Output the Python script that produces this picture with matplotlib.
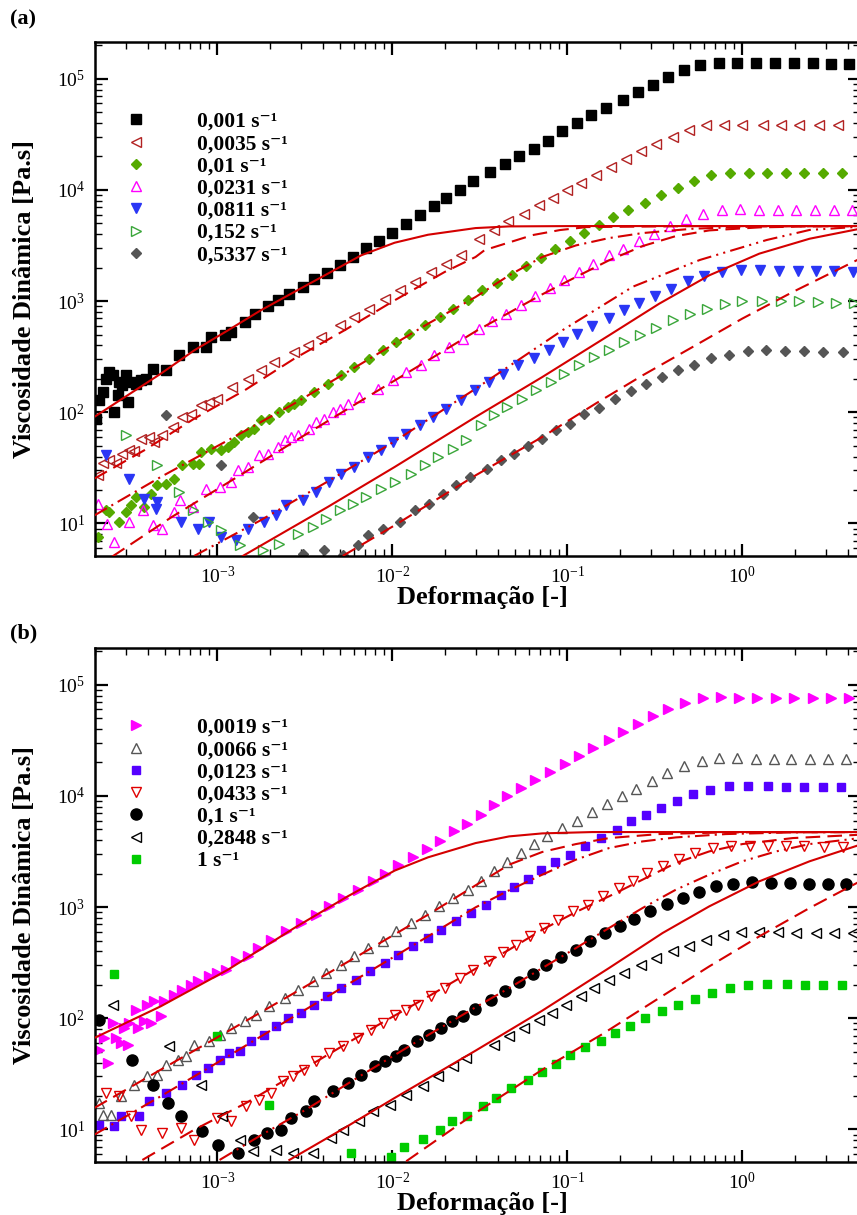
import matplotlib
matplotlib.use("Agg")
import matplotlib.pyplot as plt
from matplotlib.font_manager import FontProperties
from matplotlib.ticker import LogLocator, NullFormatter, LogFormatterMathtext

plt.rcParams["font.family"] = ["Liberation Serif", "DejaVu Serif"]
plt.rcParams["mathtext.fontset"] = "stix"

# ---------------- panel (a) : measured data ----------------
rates_a = ["0,001", "0,0035", "0,01", "0,0231", "0,0811", "0,152", "0,5337"]

strain_a1 = [2.02e-4, 2.11e-4, 2.21e-4, 2.31e-4, 2.41e-4, 2.52e-4, 2.57e-4, 2.69e-4, 2.75e-4, 2.87e-4,
             3.00e-4, 3.07e-4, 3.21e-4, 3.42e-4, 3.66e-4, 3.91e-4,
             4.27e-4, 5.08e-4, 6.05e-4, 7.23e-4, 8.61e-4, 9.18e-4, 1.10e-3, 1.20e-3, 1.43e-3, 1.65e-3,
             1.94e-3, 2.21e-3, 2.58e-3, 3.08e-3, 3.56e-3, 4.22e-3, 4.99e-3, 5.94e-3, 7.08e-3, 8.43e-3,
             9.98e-3, 1.20e-2, 1.43e-2, 1.72e-2, 2.03e-2, 2.44e-2, 2.88e-2,
             3.60e-2, 4.39e-2, 5.30e-2, 6.46e-2, 7.80e-2, 9.38e-2, 0.113, 0.137, 0.167, 0.207,
             0.252, 0.307, 0.378, 0.463, 0.571, 0.738, 0.931, 1.20, 1.54, 1.98, 2.52, 3.21, 4.09]
visc_a1 = [87.7, 128, 152, 200, 230, 215, 101, 142, 187, 175,
           215, 124, 187, 181, 194, 200,
           247, 238, 325, 386, 386, 475, 492, 527, 649, 771,
           897, 1016, 1151, 1340, 1592, 1803, 2099, 2495, 3000, 3467,
           4093, 4932, 5943, 7112, 8511, 10050, 12100,
           14490, 17220, 20320, 23500, 27730, 33650, 39720, 46880, 54450, 64710,
           75860, 88310, 104200, 119700, 133700, 138400, 138400, 138400, 138400, 138400, 138400, 136500, 136500]

strain_a2 = [2.07e-4, 2.21e-4, 2.41e-4, 2.63e-4, 2.87e-4, 3.13e-4, 3.35e-4, 3.66e-4, 4.08e-4, 4.36e-4,
             4.86e-4, 5.55e-4, 6.32e-4, 7.06e-4, 8.05e-4, 8.99e-4, 1.00e-3, 1.22e-3, 1.49e-3, 1.77e-3,
             2.12e-3, 2.75e-3, 3.28e-3, 3.92e-3, 4.99e-3, 6.07e-3, 7.40e-3, 9.02e-3, 1.10e-2, 1.34e-2,
             1.67e-2, 2.03e-2, 2.48e-2,
             3.13e-2, 3.81e-2, 4.60e-2, 5.66e-2, 6.89e-2, 8.28e-2, 0.100, 0.119, 0.145, 0.177,
             0.216, 0.263, 0.321, 0.399, 0.497, 0.619, 0.789, 1.00, 1.31, 1.66, 2.12, 2.75, 3.51]
visc_a2 = [27.1, 35.2, 37.0, 35.2, 42.5, 45.5, 44.6, 57.9, 60.0, 54.1,
           62.1, 73.8, 90.8, 97.3, 115.6, 123.9, 132.7, 169.0, 200.4, 238.2,
           283.1, 348.3, 400, 475.3, 605.3, 719.4, 855.1, 1052, 1250, 1486,
           1828, 2173, 2582,
           3639, 4325, 5212, 6109, 7261, 8453, 9908, 11610, 13710, 16070,
           19100, 22230, 26060, 29920, 34360, 38110, 38640, 38640, 38640, 38640, 38640, 38640, 38640]

strain_a3 = [2.07e-4, 2.31e-4, 2.41e-4, 2.75e-4, 3.00e-4, 3.21e-4, 3.42e-4, 3.82e-4, 4.17e-4, 4.55e-4,
             5.08e-4, 5.68e-4, 6.32e-4, 7.23e-4, 7.89e-4, 8.05e-4, 9.18e-4, 1.05e-3, 1.15e-3, 1.25e-3,
             1.36e-3, 1.49e-3, 1.63e-3, 1.77e-3, 1.98e-3, 2.26e-3, 2.52e-3, 2.75e-3, 3.01e-3, 3.58e-3,
             4.28e-3, 5.09e-3, 6.07e-3, 7.40e-3, 8.81e-3, 1.05e-2, 1.25e-2, 1.53e-2, 1.86e-2, 2.22e-2,
             2.70e-2,
             3.27e-2, 3.98e-2, 4.81e-2, 5.83e-2, 7.05e-2, 8.51e-2, 0.103, 0.125, 0.151, 0.183,
             0.223, 0.279, 0.342, 0.427, 0.531, 0.661, 0.853, 1.09, 1.38, 1.77, 2.26, 2.90, 3.70]
visc_a3 = [7.57, 13.1, 12.7, 10.3, 12.7, 14.6, 17.3, 14.1, 18.5, 22.0,
           22.8, 25.3, 33.3, 34.5, 34.5, 44.0, 47.1, 45.5, 48.8, 54.1,
           62.1, 66.5, 71.3, 84.7, 87.7, 100.7, 111.7, 119.7, 128.2, 152.4,
           181.1, 214.8, 255.3, 303.4, 360.6, 428.5, 509.3, 613.8, 719.4, 855.1,
           1016,
           1250, 1466, 1714, 2070, 2443, 2917, 3443, 4121, 4864, 5702,
           6546, 7674, 8933, 10470, 12110, 13520, 14190, 14190, 14190, 14190, 14190, 14190, 14190]

strain_a4 = [2.07e-4, 2.35e-4, 2.57e-4, 3.13e-4, 3.74e-4, 4.27e-4, 4.86e-4, 5.68e-4, 6.14e-4, 7.23e-4,
             8.61e-4, 1.03e-3, 1.20e-3, 1.31e-3, 1.49e-3, 1.74e-3, 1.94e-3, 2.21e-3, 2.42e-3, 2.64e-3,
             2.88e-3, 3.36e-3, 3.66e-3, 4.09e-3, 4.56e-3, 4.99e-3, 5.56e-3, 6.49e-3, 8.26e-3, 1.01e-2,
             1.20e-2, 1.46e-2, 1.74e-2, 2.12e-2, 2.53e-2,
             3.13e-2, 3.72e-2, 4.48e-2, 5.41e-2, 6.53e-2, 7.93e-2, 9.57e-2, 0.116, 0.140, 0.172,
             0.209, 0.255, 0.313, 0.385, 0.475, 0.598, 0.764, 0.973, 1.24, 1.59, 2.03, 2.61, 3.33, 4.24]
visc_a4 = [15.1, 9.95, 6.82, 10.3, 13.1, 9.62, 8.97, 12.7, 16.1, 14.1,
           20.6, 21.3, 23.6, 30.1, 32.2, 41.0, 42.5, 48.8, 56.0, 60.0,
           62.1, 71.3, 81.8, 87.7, 100.7, 107.9, 119.7, 137.4, 163.3, 193.6,
           230.1, 267.9, 325.1, 386.4, 459.2,
           557.2, 657.7, 771.0, 929.0, 1112, 1312, 1560, 1828, 2173, 2582,
           2958, 3443, 4036, 4699, 5508, 6109, 6637, 6776, 6637, 6546, 6546, 6546, 6546, 6546]

strain_a5 = [2.31e-4, 3.13e-4, 3.82e-4, 4.46e-4, 4.55e-4, 6.19e-4, 7.71e-4, 8.99e-4, 1.05e-3, 1.28e-3,
             1.49e-3, 1.86e-3, 2.16e-3, 2.47e-3, 3.08e-3, 3.66e-3, 4.37e-3, 5.09e-3, 6.07e-3, 7.24e-3,
             8.63e-3, 1.01e-2, 1.20e-2, 1.43e-2, 1.71e-2, 2.03e-2, 2.48e-2, 2.95e-2,
             3.56e-2, 4.29e-2, 5.25e-2, 6.46e-2, 7.87e-2, 9.46e-2, 0.114, 0.139, 0.172, 0.211,
             0.257, 0.318, 0.391, 0.486, 0.605, 0.764, 0.982, 1.26, 1.61, 2.07, 2.64, 3.36, 4.28]
visc_a5 = [41.0, 25.3, 16.7, 13.6, 15.6, 10.3, 8.97, 10.3, 7.57, 7.06,
           8.97, 10.3, 11.8, 14.6, 16.1, 19.2, 23.6, 28.1, 32.2, 39.6,
           45.5, 54.1, 64.3, 76.4, 90.8, 107.9, 128.2, 157.4,
           187.1, 222.3, 264.2, 307.6, 360.6, 428.5, 509.3, 597.0, 704.7, 826.0,
           968.3, 1112, 1294, 1507, 1671, 1828, 1892, 1892, 1854, 1854, 1854, 1854, 1828]

strain_a6 = [3.00e-4, 4.55e-4, 6.05e-4, 7.23e-4, 8.79e-4, 1.05e-3, 1.34e-3, 1.82e-3, 2.26e-3, 2.88e-3,
             3.51e-3, 4.18e-3, 4.99e-3, 5.94e-3, 7.08e-3, 8.63e-3, 1.03e-2, 1.28e-2, 1.53e-2, 1.82e-2,
             2.22e-2, 2.64e-2,
             3.20e-2, 3.81e-2, 4.54e-2, 5.53e-2, 6.65e-2, 8.04e-2, 9.57e-2, 0.117, 0.142, 0.173,
             0.211, 0.259, 0.321, 0.399, 0.501, 0.632, 0.798, 1.00, 1.29, 1.66, 2.12, 2.70, 3.43, 4.37]
visc_a6 = [62.1, 33.3, 19.2, 13.1, 10.3, 8.67, 6.37, 5.74, 6.59, 8.09,
           9.29, 11.0, 13.1, 15.1, 17.3, 20.6, 23.6, 28.1, 33.3, 39.6,
           47.1, 56.0,
           77.4, 94.0, 111.7, 132.7, 157.4, 187.1, 222.3, 264.2, 314.1, 360.6,
           428.5, 492.0, 572.8, 671.4, 771.0, 855.1, 948.4, 995.4, 1009, 1009, 995.4, 981.7, 961.6, 961.6]

strain_a7 = [5.08e-4, 1.05e-3, 1.59e-3, 3.08e-3, 4.09e-3, 5.21e-3, 6.34e-3, 7.24e-3, 8.81e-3, 1.10e-2,
             1.34e-2, 1.63e-2, 1.95e-2, 2.32e-2, 2.76e-2,
             3.49e-2, 4.16e-2, 4.95e-2, 5.92e-2, 7.14e-2, 8.59e-2, 0.104, 0.125, 0.152, 0.187,
             0.231, 0.283, 0.347, 0.427, 0.531, 0.661, 0.841, 1.07, 1.36, 1.76, 2.26, 2.90, 3.75]
visc_a7 = [94.0, 33.3, 11.4, 5.36, 5.74, 5.18, 6.37, 7.83, 8.97, 10.3,
           13.1, 15.1, 18.5, 22.0, 26.2,
           31.1, 37.0, 42.5, 49.8, 57.9, 68.9, 79.1, 97.3, 110.2, 130.9,
           154.5, 181.1, 207.5, 238.2, 267.9, 307.6, 329.6, 353.2, 360.6, 353.2, 353.2, 348.3, 348.3]

# ---------------- panel (a) : model curves ----------------
mstrain_a1 = [1.98e-4, 3.07e-4, 4.75e-4, 7.38e-4, 1.15e-3, 1.77e-3, 2.75e-3, 4.28e-3, 6.64e-3, 1.03e-2,
              1.60e-2, 2.99e-2, 4.65e-2, 0.112, 4.7]
mvisc_a1 = [90.8, 142.2, 222.3, 360.6, 545.8, 826.0, 1208, 1766, 2582, 3350,
            3954, 4539, 4699, 4732, 4732]
mstrain_a2 = [1.98e-4, 3.82e-4, 7.38e-4, 1.43e-3, 2.75e-3, 5.32e-3, 1.03e-2, 1.99e-2, 2.99e-2, 3.37e-2,
              6.34e-2, 9.06e-2, 0.129, 0.571, 4.7]
mvisc_a2 = [25.3, 45.5, 87.7, 157.4, 303.4, 545.8, 1016, 1828, 2495, 2877,
            3926, 4355, 4634, 4732, 4732]
mstrain_a3 = [1.98e-4, 4.75e-4, 1.15e-3, 2.75e-3, 6.64e-3, 1.60e-2, 2.99e-2, 4.65e-2, 7.19e-2, 0.112,
              0.173, 0.269, 0.519, 1.25, 4.7]
mvisc_a3 = [11.8, 26.2, 56.0, 119.7, 273.5, 626.6, 1089, 1706, 2495, 3170,
            3690, 4093, 4477, 4699, 4732]
mstrain_a4 = [2.51e-4, 5.52e-4, 1.31e-3, 3.14e-3, 7.57e-3, 1.60e-2, 2.99e-2, 4.65e-2, 7.19e-2, 0.112,
              0.173, 0.269, 0.417, 0.647, 1.25, 2.42, 4.7]
mvisc_a4 = [5.04, 11.5, 26.4, 62.1, 144.2, 293.1, 534.6, 787.0, 1151, 1648,
            2328, 3126, 3846, 4325, 4603, 4699, 4732]
mstrain_a5 = [7.38e-4, 1.77e-3, 4.28e-3, 1.03e-2, 2.99e-2, 9.42e-2, 0.237, 0.571, 1.38, 2.42, 4.7]
mvisc_a5 = [5.11, 10.7, 23.9, 54.8, 162.9, 549.5, 1349, 2344, 3548, 4365, 4667]
mstrain_a6 = [1.40e-3, 4.28e-3, 1.03e-2, 2.99e-2, 7.19e-2, 0.173, 0.335, 0.647, 1.25, 2.42, 4.7]
mvisc_a6 = [5.11, 14.1, 32.2, 90.8, 207.5, 492.0, 948.4, 1706, 2673, 3639, 4477]
mstrain_a7 = [5.21e-3, 1.03e-2, 2.99e-2, 7.19e-2, 0.145, 0.269, 0.519, 0.997, 1.94, 4.7]
mvisc_a7 = [5.11, 9.62, 27.1, 60.0, 119.7, 214.8, 386.4, 695.0, 1208, 2410]

# ---------------- panel (b) : measured data ----------------
rates_b = ["0,0019", "0,0066", "0,0123", "0,0433", "0,1", "0,2848", "1"]

strain_b1 = [2.11e-4, 2.25e-4, 2.36e-4, 2.52e-4, 2.63e-4, 2.81e-4, 2.94e-4, 3.07e-4, 3.13e-4, 3.42e-4,
             3.50e-4, 3.82e-4, 3.99e-4, 4.17e-4, 4.36e-4, 4.75e-4, 4.98e-4, 5.68e-4, 6.32e-4, 7.06e-4,
             7.71e-4, 8.99e-4, 1.00e-3, 1.12e-3, 1.28e-3, 1.49e-3, 1.70e-3, 2.03e-3, 2.47e-3, 3.01e-3,
             3.66e-3, 4.37e-3, 5.21e-3, 6.34e-3, 7.73e-3, 9.02e-3, 1.08e-2, 1.31e-2, 1.58e-2, 1.88e-2,
             2.26e-2, 2.68e-2,
             3.20e-2, 3.81e-2, 4.54e-2, 5.41e-2, 6.53e-2, 7.93e-2, 9.70e-2, 0.117, 0.140, 0.172,
             0.207, 0.252, 0.309, 0.378, 0.472, 0.593, 0.755, 0.959, 1.22, 1.56, 1.98, 2.52, 3.21, 4.09]
visc_b1 = [52.2, 66.5, 39.6, 90.8, 66.5, 60.0, 81.8, 57.9, 90.8, 119.7,
           81.8, 94.0, 132.7, 90.8, 142.2, 104.2, 142.2, 162.9, 180.7, 200.4,
           214.8, 238.2, 255.3, 273.5, 325.1, 360.6, 428.5, 509.3, 605.3, 719.4,
           855.1, 1016, 1208, 1435, 1706, 1986, 2377, 2805, 3350, 3954,
           4797, 5623,
           6776, 8337, 9908, 11780, 14000, 16290, 19360, 23010, 26980, 32060,
           37580, 44360, 51880, 60390, 68390, 75860, 76910, 75860, 75860, 75860, 75860, 75860, 75860, 75860]

strain_b2 = [2.11e-4, 2.21e-4, 2.46e-4, 2.81e-4, 3.35e-4, 3.99e-4, 4.55e-4, 5.08e-4, 5.93e-4, 6.61e-4,
             7.38e-4, 8.99e-4, 1.03e-3, 1.20e-3, 1.43e-3, 1.66e-3, 1.98e-3, 2.42e-3, 2.88e-3, 3.51e-3,
             4.18e-3, 5.09e-3, 6.07e-3, 7.24e-3, 8.81e-3, 1.05e-2, 1.27e-2, 1.53e-2, 1.84e-2, 2.22e-2,
             2.70e-2,
             3.20e-2, 3.81e-2, 4.54e-2, 5.41e-2, 6.46e-2, 7.69e-2, 9.38e-2, 0.114, 0.139, 0.169,
             0.205, 0.248, 0.304, 0.373, 0.461, 0.587, 0.738, 0.931, 1.19, 1.51, 1.90, 2.42, 3.08, 3.92]
visc_b2 = [17.3, 13.6, 13.6, 19.9, 25.3, 30.1, 31.1, 38.3, 42.5, 45.5,
           57.9, 62.1, 71.3, 81.8, 94.0, 107.9, 128.2, 152.4, 181.1, 214.8,
           255.3, 303.4, 360.6, 428.5, 498.9, 605.3, 719.4, 855.1, 1016, 1208,
           1435,
           1706, 2128, 2547, 3069, 3690, 4325, 5140, 5984, 7161, 8453,
           9908, 11610, 13710, 16070, 18450, 20460, 21930, 21930, 21480, 21480, 21480, 21480, 21480, 21480]

strain_b3 = [2.11e-4, 2.57e-4, 2.81e-4, 3.57e-4, 4.08e-4, 5.08e-4, 6.32e-4, 7.55e-4, 8.79e-4, 1.03e-3,
             1.17e-3, 1.34e-3, 1.56e-3, 1.86e-3, 2.16e-3, 2.52e-3, 3.01e-3, 3.58e-3, 4.24e-3, 5.09e-3,
             6.21e-3, 7.50e-3, 9.02e-3, 1.08e-2, 1.31e-2, 1.60e-2, 1.90e-2, 2.32e-2, 2.80e-2,
             3.41e-2, 4.16e-2, 4.95e-2, 5.92e-2, 7.05e-2, 8.47e-2, 0.104, 0.126, 0.155, 0.191,
             0.231, 0.281, 0.342, 0.421, 0.520, 0.653, 0.834, 1.07, 1.40, 1.77, 2.26, 2.88, 3.66]
visc_b3 = [11.0, 10.7, 13.1, 13.1, 17.9, 21.3, 25.3, 31.1, 35.7, 42.5,
           48.8, 50.5, 62.1, 71.3, 84.7, 100.7, 111.7, 132.7, 157.4, 187.1,
           222.3, 267.9, 314.1, 373.3, 443.6, 527.2, 626.6, 744.7, 885.1,
           1052, 1276, 1507, 1803, 2173, 2529, 2958, 3565, 4178, 4966,
           5902, 6776, 7780, 9057, 10470, 11380, 12190, 12190, 12190, 11940, 11940, 11940, 11940]

strain_b4 = [2.31e-4, 2.75e-4, 3.21e-4, 3.66e-4, 4.86e-4, 6.19e-4, 7.38e-4, 1.00e-3, 1.20e-3, 1.46e-3,
             1.74e-3, 2.03e-3, 2.36e-3, 2.70e-3, 3.14e-3, 3.66e-3, 4.37e-3, 5.21e-3, 6.34e-3, 7.57e-3,
             8.81e-3, 1.03e-2, 1.20e-2, 1.40e-2, 1.67e-2, 1.99e-2, 2.42e-2, 2.88e-2,
             3.56e-2, 4.26e-2, 5.12e-2, 6.10e-2, 7.36e-2, 8.89e-2, 0.108, 0.132, 0.160, 0.196,
             0.236, 0.287, 0.350, 0.432, 0.538, 0.682, 0.861, 1.10, 1.40, 1.77, 2.26, 2.94, 3.75]
visc_b4 = [21.3, 19.9, 13.1, 9.95, 9.29, 10.3, 8.09, 12.7, 11.8, 16.1,
           18.5, 21.3, 27.1, 30.1, 34.5, 41.0, 48.8, 56.0, 66.5, 79.1,
           90.8, 107.9, 119.7, 132.7, 157.4, 187.1, 230.1, 273.5,
           325.1, 394.5, 459.2, 545.8, 648.6, 770.9, 916.2, 1052, 1250, 1486,
           1730, 2028, 2328, 2710, 3069, 3396, 3565, 3565, 3565, 3516, 3516, 3443, 3443]

strain_b5 = [2.11e-4, 3.27e-4, 4.27e-4, 5.20e-4, 6.19e-4, 8.13e-4, 1.01e-3, 1.32e-3, 1.63e-3, 1.92e-3,
             2.31e-3, 2.64e-3, 3.21e-3, 3.58e-3, 4.56e-3, 5.61e-3, 6.64e-3, 7.91e-3, 9.02e-3, 1.05e-2,
             1.17e-2, 1.39e-2, 1.63e-2, 1.90e-2, 2.19e-2, 2.53e-2, 2.95e-2,
             3.65e-2, 4.41e-2, 5.30e-2, 6.37e-2, 7.59e-2, 9.16e-2, 0.112, 0.134, 0.164, 0.200,
             0.241, 0.296, 0.369, 0.455, 0.562, 0.706, 0.887, 1.14, 1.46, 1.86, 2.39, 3.08, 3.92]
visc_b5 = [97.3, 42.5, 25.3, 17.3, 13.1, 9.62, 7.29, 6.15, 8.09, 9.29,
           9.95, 12.7, 14.6, 17.9, 22.0, 26.2, 31.1, 37.0, 41.0, 45.5,
           52.2, 62.1, 71.3, 81.8, 94.0, 104.2, 122.2,
           147.2, 174.6, 211.8, 250.0, 299.2, 353.2, 414.0, 492.0, 584.8, 671.4,
           787.0, 916.2, 1067, 1208, 1368, 1538, 1626, 1671, 1648, 1648, 1626, 1626, 1626]

strain_b6 = [2.52e-4, 5.31e-4, 8.05e-4, 1.07e-3, 1.34e-3, 1.59e-3, 2.16e-3, 2.70e-3, 3.51e-3, 4.47e-3,
             5.21e-3, 6.49e-3, 7.73e-3, 9.64e-3, 1.20e-2, 1.49e-2, 1.82e-2, 2.22e-2, 2.64e-2,
             3.81e-2, 4.65e-2, 5.66e-2, 6.89e-2, 8.22e-2, 9.79e-2, 0.119, 0.142, 0.173, 0.211,
             0.263, 0.321, 0.399, 0.493, 0.619, 0.778, 0.982, 1.24, 1.59, 2.03, 2.64, 3.36, 4.28]
visc_b6 = [132.7, 56.0, 25.3, 13.1, 8.09, 6.37, 6.59, 6.15, 6.15, 8.38,
           9.95, 11.8, 14.6, 16.7, 20.6, 24.4, 30.1, 37.0, 44.0,
           57.9, 68.9, 81.8, 97.3, 111.7, 132.7, 157.4, 187.1, 222.3, 255.3,
           303.4, 348.3, 400.0, 443.6, 509.3, 557.2, 597.0, 597.0, 597.0, 584.8, 584.8, 584.8, 584.8]

strain_b7 = [2.57e-4, 9.95e-4, 1.98e-3, 5.81e-3, 9.84e-3, 1.17e-2, 1.49e-2, 1.88e-2, 2.19e-2, 2.68e-2,
             3.30e-2, 3.93e-2, 4.74e-2, 5.98e-2, 7.19e-2, 8.59e-2, 0.104, 0.126, 0.155, 0.187,
             0.228, 0.279, 0.347, 0.427, 0.536, 0.670, 0.849, 1.07, 1.38, 1.79, 2.29, 2.88, 3.72]
visc_b7 = [250.0, 68.9, 16.7, 6.15, 5.62, 6.97, 8.28, 9.84, 11.8, 13.1,
           16.1, 19.2, 23.6, 28.1, 32.9, 38.8, 46.5, 54.8, 63.0, 73.8,
           84.7, 100.7, 117.2, 132.7, 150.3, 169.0, 187.1, 197.7, 203.2, 203.2, 197.7, 197.7, 197.7]

# ---------------- panel (b) : model curves ----------------
mstrain_b1 = [1.98e-4, 4.75e-4, 1.15e-3, 2.75e-3, 5.56e-3, 1.03e-2, 1.60e-2, 2.99e-2, 4.65e-2, 7.19e-2, 0.139, 4.7]
mvisc_b1 = [66.5, 128.2, 273.5, 648.6, 1250, 2128, 2805, 3767, 4325, 4603, 4732, 4732]
mstrain_b2 = [1.98e-4, 4.75e-4, 1.15e-3, 2.75e-3, 6.64e-3, 1.60e-2, 2.99e-2, 4.65e-2, 7.19e-2, 0.112,
              0.173, 0.335, 0.805, 4.7]
mvisc_b2 = [15.6, 34.5, 76.4, 169.0, 378.4, 855.1, 1570, 2410, 3133, 3690,
            4178, 4539, 4699, 4732]
mstrain_b3 = [1.98e-4, 4.75e-4, 1.15e-3, 2.75e-3, 6.64e-3, 1.60e-2, 2.99e-2, 4.65e-2, 7.19e-2, 0.112,
              0.173, 0.269, 0.417, 0.805, 1.94, 4.7]
mvisc_b3 = [8.97, 19.9, 45.5, 104.2, 238.2, 545.8, 995.4, 1416, 1959, 2673,
            3396, 3899, 4236, 4539, 4699, 4732]
mstrain_b4 = [3.73e-4, 7.38e-4, 1.46e-3, 3.14e-3, 7.57e-3, 1.67e-2, 2.99e-2, 4.65e-2, 7.19e-2, 0.112,
              0.173, 0.269, 0.417, 0.647, 1.00, 1.94, 4.7]
mvisc_b4 = [5.32, 9.95, 17.3, 35.2, 80.2, 162.9, 279.2, 414.0, 626.6, 903.6,
            1250, 1766, 2495, 3170, 3690, 4178, 4477]
mstrain_b5 = [1.03e-3, 1.77e-3, 3.21e-3, 6.64e-3, 1.39e-2, 2.99e-2, 4.65e-2, 7.19e-2, 0.112, 0.173,
              0.269, 0.417, 0.647, 1.00, 1.56, 2.42, 4.7]
mvisc_b5 = [5.32, 8.85, 15.1, 30.7, 62.1, 125.6, 187.1, 283.1, 428.5, 648.6,
            981.7, 1435, 1959, 2582, 3170, 3690, 4178]
mstrain_b6 = [2.58e-3, 5.32e-3, 1.03e-2, 1.99e-2, 2.99e-2, 7.19e-2, 0.173, 0.350, 0.647, 1.25, 2.42, 4.7]
mvisc_b6 = [5.32, 10.3, 19.2, 35.2, 51.2, 117.2, 283.1, 584.8, 1016, 1706, 2582, 3639]
mstrain_b7 = [1.20e-2, 2.99e-2, 7.19e-2, 0.159, 0.335, 0.647, 1.25, 2.42, 4.7]
mvisc_b7 = [5.18, 14.1, 34.5, 72.3, 152.4, 293.1, 545.8, 981.7, 1706]

# ---------------- styles ----------------
RED = "#d40000"
DASH = (0, (7, 3.5))
DASHDOT = (0, (7, 2.5, 1, 2.5))
DASHDOTDOT = (0, (7, 2.5, 1, 2.5, 1, 2.5))
model_styles = ["-", DASH, DASHDOT, DASH, DASHDOTDOT, "-", DASH]

# (marker, size, face, edge)
marks_a = [("s", 6.6, "black", "black"),
           ("<", 7.2, "none", "#b22222"),
           ("D", 5.4, "#55aa00", "#55aa00"),
           ("^", 7.2, "none", "#ff00ff"),
           ("v", 7.2, "#2a36f5", "#2a36f5"),
           (">", 7.2, "none", "#3aa63a"),
           ("D", 5.4, "#555555", "#555555")]
marks_b = [(">", 7.2, "#ff00ff", "#ff00ff"),
           ("^", 7.2, "none", "#555555"),
           ("s", 6.4, "#5500ff", "#5500ff"),
           ("v", 7.2, "none", "#e00000"),
           ("o", 8.0, "black", "black"),
           ("<", 7.2, "none", "black"),
           ("s", 6.4, "#00cc00", "#00cc00")]

data_a = [(strain_a1, visc_a1), (strain_a2, visc_a2), (strain_a3, visc_a3), (strain_a4, visc_a4),
          (strain_a5, visc_a5), (strain_a6, visc_a6), (strain_a7, visc_a7)]
model_a = [(mstrain_a1, mvisc_a1), (mstrain_a2, mvisc_a2), (mstrain_a3, mvisc_a3), (mstrain_a4, mvisc_a4),
           (mstrain_a5, mvisc_a5), (mstrain_a6, mvisc_a6), (mstrain_a7, mvisc_a7)]
data_b = [(strain_b1, visc_b1), (strain_b2, visc_b2), (strain_b3, visc_b3), (strain_b4, visc_b4),
          (strain_b5, visc_b5), (strain_b6, visc_b6), (strain_b7, visc_b7)]
model_b = [(mstrain_b1, mvisc_b1), (mstrain_b2, mvisc_b2), (mstrain_b3, mvisc_b3), (mstrain_b4, mvisc_b4),
           (mstrain_b5, mvisc_b5), (mstrain_b6, mvisc_b6), (mstrain_b7, mvisc_b7)]


def draw_panel(ax, data, models, marks, rates):
    handles = []
    for (x, y), (m, ms, fc, ec) in zip(data, marks):
        h, = ax.plot(x, y, linestyle="none", marker=m, markersize=ms,
                     markerfacecolor=fc, markeredgecolor=ec, markeredgewidth=1.0, zorder=2)
        handles.append(h)
    for (x, y), ls in zip(models, model_styles):
        ax.plot(x, y, color=RED, linestyle=ls, linewidth=1.5, zorder=3)

    ax.set_xscale("log")
    ax.set_yscale("log")
    ax.set_xlim(2.0e-4, 4.7)
    ax.set_ylim(5.1, 2.14e5)
    ax.xaxis.set_major_locator(LogLocator(base=10, numticks=20))
    ax.yaxis.set_major_locator(LogLocator(base=10, numticks=20))
    ax.xaxis.set_minor_locator(LogLocator(base=10, subs=range(2, 10), numticks=50))
    ax.yaxis.set_minor_locator(LogLocator(base=10, subs=range(2, 10), numticks=50))
    ax.xaxis.set_major_formatter(LogFormatterMathtext())
    ax.yaxis.set_major_formatter(LogFormatterMathtext())
    ax.xaxis.set_minor_formatter(NullFormatter())
    ax.yaxis.set_minor_formatter(NullFormatter())
    ax.tick_params(which="both", direction="in", top=True, right=True)
    ax.tick_params(which="major", length=9, width=1.6, labelsize=14, pad=7)
    ax.tick_params(which="minor", length=5, width=1.0)
    for sp in ax.spines.values():
        sp.set_linewidth(1.8)

    bold = {"fontsize": 19, "fontweight": "bold"}
    ax.set_xlabel("Deformação [-]", **bold)
    ax.set_ylabel("Viscosidade Dinâmica [Pa.s]", labelpad=15, **bold)
    ax.xaxis.set_label_coords(0.507, -0.059)

    labels = [r + " s\u207b\u00b9" for r in rates]
    ax.legend(handles, labels, loc="upper left", bbox_to_anchor=(0.040, 0.864),
              frameon=False,
              prop=FontProperties(family=["Liberation Serif", "DejaVu Serif"], weight="bold", size=15.5),
              handlelength=1.0, handletextpad=2.3, labelspacing=0.1,
              borderpad=0.0, borderaxespad=0.0)


fig = plt.figure(figsize=(8.57, 12.15), dpi=100)
ax_a = fig.add_axes([95 / 857, 1 - 556 / 1215, 765 / 857, 514 / 1215])
ax_b = fig.add_axes([95 / 857, 1 - 1162 / 1215, 765 / 857, 514 / 1215])

draw_panel(ax_a, data_a, model_a, marks_a, rates_a)
draw_panel(ax_b, data_b, model_b, marks_b, rates_b)

fig.text(10 / 857, 1 - 19 / 1215, "(a)", fontsize=16, fontweight="bold", va="center", ha="left")
fig.text(10 / 857, 1 - 633 / 1215, "(b)", fontsize=16, fontweight="bold", va="center", ha="left")

fig.savefig("out.png", dpi=100)
